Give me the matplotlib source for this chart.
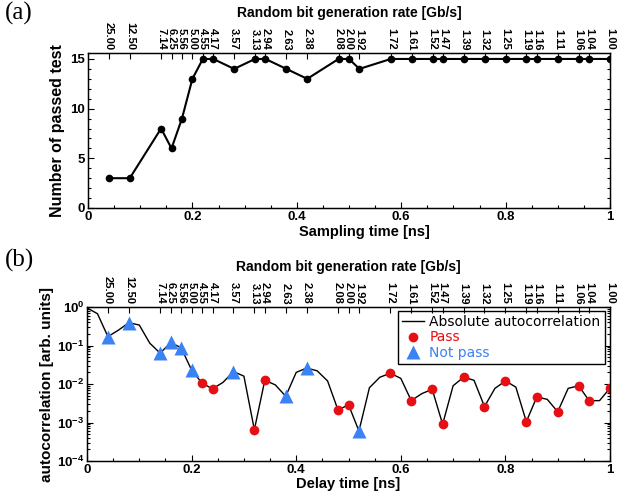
import matplotlib
matplotlib.use("Agg")
import matplotlib.pyplot as plt
from matplotlib.ticker import MultipleLocator, LogLocator, NullFormatter, FixedLocator

# sampling time [ns] and number of passed tests (a)
sampling_time = [0.04, 0.08, 0.14, 0.16, 0.18, 0.20, 0.22, 0.24, 0.28, 0.32,
                 0.34, 0.38, 0.42, 0.48, 0.50, 0.52, 0.58, 0.62, 0.66, 0.68,
                 0.72, 0.76, 0.80, 0.84, 0.86, 0.90, 0.94, 0.96, 1.00]
passed = [3, 3, 8, 6, 9, 13, 15, 15, 14, 15,
          15, 14, 13, 15, 15, 14, 15, 15, 15, 15,
          15, 15, 15, 15, 15, 15, 15, 15, 15]
rate_labels = ["25.00", "12.50", "7.14", "6.25", "5.56", "5.00", "4.55", "4.17",
               "3.57", "3.13", "2.94", "2.63", "2.38", "2.08", "2.00", "1.92",
               "1.72", "1.61", "1.52", "1.47", "1.39", "1.32", "1.25", "1.19",
               "1.16", "1.11", "1.06", "1.04", "1.00"]

# delay time [ns] and absolute autocorrelation (b)
delay = [0.00, 0.02, 0.04, 0.06, 0.08, 0.10, 0.12, 0.14, 0.16, 0.18,
         0.20, 0.22, 0.24, 0.26, 0.28, 0.30, 0.32, 0.34, 0.36, 0.38,
         0.40, 0.42, 0.44, 0.46, 0.48, 0.50, 0.52, 0.54, 0.56, 0.58,
         0.60, 0.62, 0.64, 0.66, 0.68, 0.70, 0.72, 0.74, 0.76, 0.78,
         0.80, 0.82, 0.84, 0.86, 0.88, 0.90, 0.92, 0.94, 0.96, 0.98, 1.00]
acf = [0.95, 0.67, 0.17, 0.25, 0.39, 0.34, 0.115, 0.063, 0.12, 0.087,
       0.023, 0.0105, 0.0075, 0.011, 0.021, 0.016, 0.00065, 0.0125, 0.0095, 0.0048,
       0.020, 0.026, 0.022, 0.012, 0.0021, 0.0029, 0.0006, 0.008, 0.015, 0.019,
       0.014, 0.0037, 0.0056, 0.0073, 0.0009, 0.009, 0.015, 0.0125, 0.0026, 0.0077,
       0.012, 0.0083, 0.00105, 0.0046, 0.004, 0.0019, 0.0077, 0.009, 0.0037, 0.0037,
       0.0078]

plt.rcParams["font.family"] = "Liberation Sans"
plt.rcParams["font.weight"] = "bold"
plt.rcParams["mathtext.fontset"] = "custom"
plt.rcParams["mathtext.bf"] = "Liberation Sans:bold"
plt.rcParams["mathtext.rm"] = "Liberation Sans:bold"

RED = "#e50f14"
BLUE = "#3b82f5"

fig = plt.figure(figsize=(6.17, 4.94), dpi=100)
W, H = 617, 494


def px_axes(x0, y0, x1, y1):
    return fig.add_axes([x0 / W, 1 - y1 / H, (x1 - x0) / W, (y1 - y0) / H])


def style_axes(ax):
    ax.tick_params(which="both", direction="in", top=False, right=True,
                   labelsize=9.5, width=0.8, pad=2)
    ax.tick_params(which="major", length=4)
    ax.tick_params(which="minor", length=2.5)
    for s in ax.spines.values():
        s.set_linewidth(1.0)


def add_rate_axis(ax):
    top = ax.twiny()
    top.set_xlim(ax.get_xlim())
    top.xaxis.set_major_locator(FixedLocator(sampling_time))
    top.set_xticklabels(rate_labels, rotation=-90, fontsize=8, fontweight="bold")
    top.tick_params(axis="x", direction="in", length=4, width=0.8, pad=2)
    top.set_xlabel("Random bit generation rate [Gb/s]", fontsize=10,
                   fontweight="bold", labelpad=4)
    return top


# (a) number of passed tests
ax1 = px_axes(88, 53, 610, 208)
ax1.plot(sampling_time, passed, color="black", lw=1.5, marker="o", ms=4.5)
ax1.set_xlim(0, 1)
ax1.set_ylim(0, 15.6)
ax1.xaxis.set_minor_locator(MultipleLocator(0.05))
ax1.yaxis.set_major_locator(MultipleLocator(5))
ax1.yaxis.set_minor_locator(MultipleLocator(1))
ax1.set_xticks([0, 0.2, 0.4, 0.6, 0.8, 1.0])
ax1.set_xticklabels(["0", "0.2", "0.4", "0.6", "0.8", "1"])
style_axes(ax1)
ax1.set_xlabel("Sampling time [ns]", fontsize=10.5, fontweight="bold")
ax1.xaxis.set_label_coords(0.529, -0.11)
ax1.set_ylabel("Number of passed test", fontsize=11.5, fontweight="bold", labelpad=4)
add_rate_axis(ax1)

# (b) autocorrelation
ax2 = px_axes(87, 307, 610, 461)
ax2.plot(delay, acf, color="black", lw=1.0, label="Absolute autocorrelation")
pass_t = [t for t, n in zip(sampling_time, passed) if n == 15]
fail_t = [t for t, n in zip(sampling_time, passed) if n < 15]
pass_v = [acf[delay.index(t)] for t in pass_t]
fail_v = [acf[delay.index(t)] for t in fail_t]
ax2.plot(pass_t, pass_v, "o", color=RED, ms=7, mec="none", label="Pass")
ax2.plot(fail_t, fail_v, "^", color=BLUE, ms=9.5, mec="none", label="Not pass")
ax2.set_yscale("log")
ax2.set_xlim(0, 1)
ax2.set_ylim(1e-4, 1)
ax2.set_xticks([0, 0.2, 0.4, 0.6, 0.8, 1.0])
ax2.set_xticklabels(["0", "0.2", "0.4", "0.6", "0.8", "1"])
ax2.xaxis.set_minor_locator(MultipleLocator(0.05))
ax2.yaxis.set_major_locator(FixedLocator([1e-4, 1e-3, 1e-2, 1e-1, 1]))
ax2.set_yticklabels([r"$\mathbf{10^{-4}}$", r"$\mathbf{10^{-3}}$", r"$\mathbf{10^{-2}}$",
                     r"$\mathbf{10^{-1}}$", r"$\mathbf{10^{0}}$"])
ax2.yaxis.set_minor_locator(LogLocator(base=10, subs=range(2, 10)))
ax2.yaxis.set_minor_formatter(NullFormatter())
style_axes(ax2)
ax2.tick_params(axis="y", labelsize=9.5)
ax2.set_xlabel("Delay time [ns]", fontsize=10.5, fontweight="bold", labelpad=1)
ax2.set_ylabel("autocorrelation [arb. units]", fontsize=11, fontweight="bold", labelpad=2)
leg = ax2.legend(loc="upper right", bbox_to_anchor=(0.99, 0.975), borderaxespad=0,
                 fancybox=False, framealpha=1, edgecolor="black", handlelength=1.6,
                 handletextpad=0.4, labelspacing=0.1, borderpad=0.3,
                 prop={"family": "DejaVu Sans", "weight": "normal", "size": 10})
leg.get_frame().set_linewidth(1.0)
for txt, col in zip(leg.get_texts(), ["black", RED, BLUE]):
    txt.set_color(col)
add_rate_axis(ax2)

fig.text(0.008, 0.972, "(a)", fontsize=18, family="Liberation Serif",
         fontweight="normal", va="center", ha="left")
fig.text(0.008, 0.472, "(b)", fontsize=18, family="Liberation Serif",
         fontweight="normal", va="center", ha="left")

fig.savefig("out.png", dpi=100)
